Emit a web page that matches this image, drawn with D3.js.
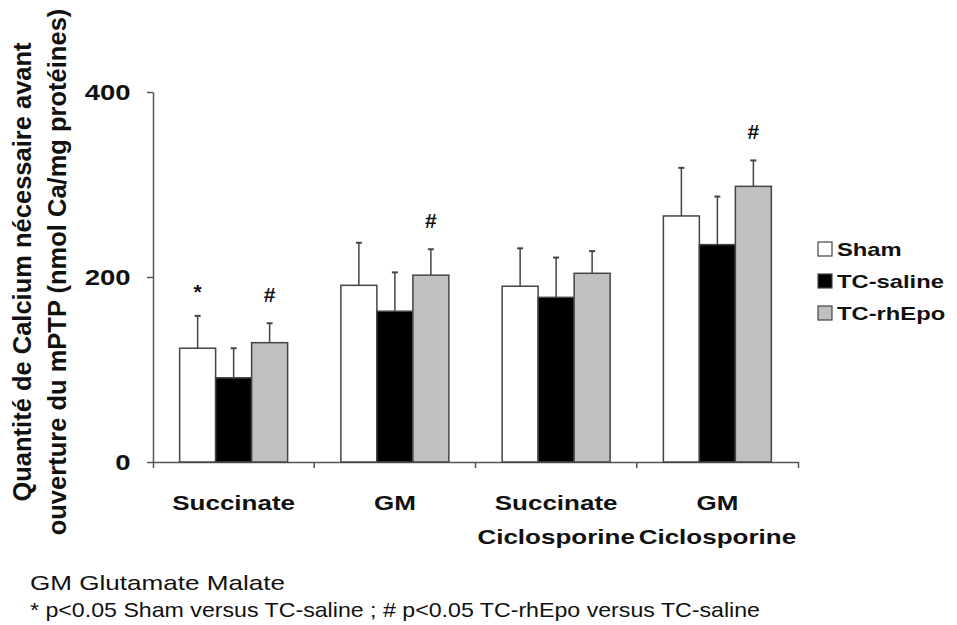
<html lang="fr">
<head>
<meta charset="utf-8">
<style>
    body { margin: 0; background: #fff; }
    text { font-family: "Liberation Sans", Arial, sans-serif; fill: #111; }
</style>
</head>
<body>
<script type='text/javascript' src='https://d3js.org/d3.v7.min.js'></script>
<script>
    // valeurs
    var categories = [["Succinate"], ["GM"], ["Succinate", "Ciclosporine"], ["GM", "Ciclosporine"]];
    var groups = ["Sham", "TC-saline", "TC-rhEpo"];
    var shamValues = [123, 191, 190, 266];
    var shamErrors = [35, 46, 41, 52];
    var salineValues = [91, 163, 178, 235];
    var salineErrors = [32, 42, 43, 52];
    var rhepoValues = [129, 202, 204, 298];
    var rhepoErrors = [21, 28, 24, 28];
    var marks = [["*", "", "#"], ["", "", "#"], ["", "", ""], ["", "", "#"]];
    var yTicks = [0, 200, 400];
    var yTitle = ["Quantité de Calcium nécessaire avant", "ouverture du mPTP (nmol Ca/mg protéines)"];
    var notes = ["GM Glutamate Malate", "* p<0.05 Sham versus TC-saline ; # p<0.05 TC-rhEpo versus TC-saline"];

    var series = [
        {name: groups[0], values: shamValues, errors: shamErrors, fill: "#ffffff"},
        {name: groups[1], values: salineValues, errors: salineErrors, fill: "#000000"},
        {name: groups[2], values: rhepoValues, errors: rhepoErrors, fill: "#c0c0c0"}
    ];

    var width = 957, height = 625;
    var sx = 1.3; // le texte de la figure est étiré en largeur
    var axisColor = "#555";

    var svg = d3.select("body").append("svg")
        .attr("width", width)
        .attr("height", height);

    var x0 = d3.scaleBand()
        .domain(d3.range(categories.length))
        .range([153, 798])
        .padding(0);
    var x1 = d3.scaleBand()
        .domain(groups)
        .range([0, x0.bandwidth()])
        .paddingInner(0)
        .paddingOuter(0.74);
    var y = d3.scaleLinear()
        .domain([0, 400])
        .range([462, 92]);

    // axe Y
    var yAxis = svg.append("g")
        .attr("transform", "translate(153,0)")
        .call(d3.axisLeft(y).tickValues(yTicks).tickSize(6).tickSizeOuter(0).tickPadding(12));
    yAxis.selectAll("path, line").attr("stroke", axisColor).attr("stroke-width", 1.5);
    yAxis.selectAll("text")
        .attr("transform", "scale(1.25,1)")
        .style("font-size", "22px")
        .style("font-weight", "bold")
        .attr("fill", "#111");

    // axe X
    var xAxis = svg.append("g")
        .attr("transform", "translate(0,462)")
        .call(d3.axisBottom(x0).tickSizeInner(0).tickSizeOuter(6).tickFormat(""));
    xAxis.selectAll("path, line").attr("stroke", axisColor).attr("stroke-width", 1.5);
    xAxis.selectAll(".sep")
        .data(d3.range(1, categories.length))
        .enter().append("line")
        .attr("class", "sep")
        .attr("x1", function(d) { return x0(d); })
        .attr("x2", function(d) { return x0(d); })
        .attr("y1", 0)
        .attr("y2", 6)
        .attr("stroke", axisColor)
        .attr("stroke-width", 1.5);

    var catLabels = svg.selectAll(".cat")
        .data(categories)
        .enter().append("text")
        .attr("class", "cat")
        .attr("text-anchor", "middle")
        .attr("transform", function(d, i) {
            return "translate(" + (x0(i) + x0.bandwidth() / 2) + ",510) scale(" + sx + ",1)";
        })
        .style("font-size", "20px")
        .style("font-weight", "bold");
    catLabels.selectAll("tspan")
        .data(function(d) { return d; })
        .enter().append("tspan")
        .attr("x", 0)
        .attr("dy", function(d, i) { return i == 0 ? 0 : 34; })
        .text(function(d) { return d; });

    // barres
    var grp = svg.selectAll(".grp")
        .data(categories)
        .enter().append("g")
        .attr("class", "grp")
        .attr("transform", function(d, i) { return "translate(" + x0(i) + ",0)"; });

    var cell = grp.selectAll(".cell")
        .data(function(d, i) {
            return series.map(function(s, j) {
                return {name: s.name, v: s.values[i], e: s.errors[i], fill: s.fill, mark: marks[i][j]};
            });
        })
        .enter().append("g")
        .attr("class", "cell");

    var barStroke = "#444";
    cell.append("line")
        .attr("x1", function(d) { return x1(d.name) + x1.bandwidth() / 2; })
        .attr("x2", function(d) { return x1(d.name) + x1.bandwidth() / 2; })
        .attr("y1", function(d) { return y(d.v); })
        .attr("y2", function(d) { return y(d.v + d.e); })
        .attr("stroke", barStroke)
        .attr("stroke-width", 1.5);
    cell.append("line")
        .attr("x1", function(d) { return x1(d.name) + x1.bandwidth() / 2 - 3; })
        .attr("x2", function(d) { return x1(d.name) + x1.bandwidth() / 2 + 3; })
        .attr("y1", function(d) { return y(d.v + d.e); })
        .attr("y2", function(d) { return y(d.v + d.e); })
        .attr("stroke", barStroke)
        .attr("stroke-width", 2);
    cell.append("rect")
        .attr("x", function(d) { return x1(d.name); })
        .attr("y", function(d) { return y(d.v); })
        .attr("width", x1.bandwidth())
        .attr("height", function(d) { return y(0) - y(d.v); })
        .attr("fill", function(d) { return d.fill; })
        .attr("stroke", barStroke)
        .attr("stroke-width", 1.5);
    cell.append("text")
        .attr("x", function(d) { return x1(d.name) + x1.bandwidth() / 2; })
        .attr("y", function(d) { return y(d.v + d.e) - 29; })
        .attr("dy", function(d) { return d.mark == "*" ? "0.6em" : "0.35em"; })
        .attr("text-anchor", "middle")
        .style("font-size", "21px")
        .style("font-weight", "bold")
        .text(function(d) { return d.mark; });

    // titre de l'axe Y
    var title = svg.append("text")
        .attr("text-anchor", "middle")
        .attr("transform", "translate(0,272) rotate(-90)")
        .style("font-size", "25.5px")
        .style("font-weight", "bold");
    title.selectAll("tspan")
        .data(yTitle)
        .enter().append("tspan")
        .attr("x", 0)
        .attr("y", function(d, i) { return 31 + i * 35; })
        .text(function(d) { return d; });

    // légende
    var legend = svg.selectAll(".leg")
        .data(series)
        .enter().append("g")
        .attr("class", "leg")
        .attr("transform", function(d, i) { return "translate(818," + (249 + i * 32) + ")"; });
    legend.append("rect")
        .attr("x", 0)
        .attr("y", -7)
        .attr("width", 14)
        .attr("height", 14)
        .attr("fill", function(d) { return d.fill; })
        .attr("stroke", "#444")
        .attr("stroke-width", 1.2);
    legend.append("text")
        .attr("transform", "translate(19,0) scale(1.25,1)")
        .attr("dy", "0.35em")
        .style("font-size", "19px")
        .style("font-weight", "bold")
        .text(function(d) { return d.name; });

    // notes
    var noteWidths = [255, 730];
    svg.selectAll(".note")
        .data(notes)
        .enter().append("text")
        .attr("class", "note")
        .attr("x", 30)
        .attr("y", function(d, i) { return 590 + i * 27; })
        .attr("textLength", function(d, i) { return noteWidths[i]; })
        .attr("lengthAdjust", "spacingAndGlyphs")
        .style("font-size", "21px")
        .attr("fill", "#222")
        .text(function(d) { return d; });
</script>
</body>
</html>
